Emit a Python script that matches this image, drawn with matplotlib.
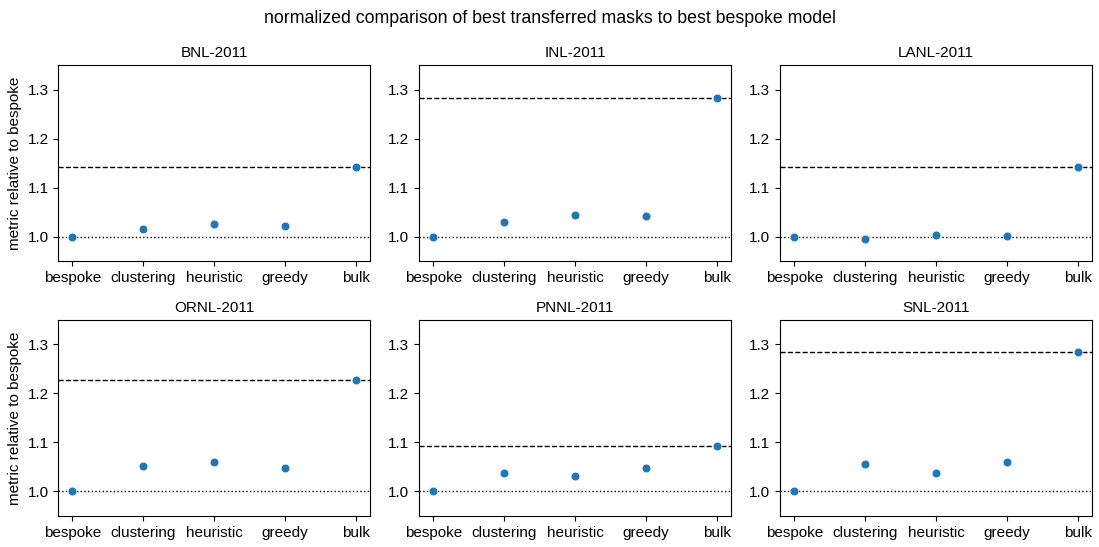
import numpy as np
import matplotlib.pyplot as plt

plt.rcParams['font.family'] = ['Liberation Sans', 'DejaVu Sans']

# methods along the x axis
methods = ['bespoke', 'clustering', 'heuristic', 'greedy', 'bulk']

# labs, one panel each
labs = ['BNL-2011', 'INL-2011', 'LANL-2011', 'ORNL-2011', 'PNNL-2011', 'SNL-2011']

# metric relative to bespoke
bnl = [1.000, 1.016, 1.025, 1.021, 1.141]
inl = [1.000, 1.029, 1.045, 1.041, 1.282]
lanl = [1.000, 0.996, 1.004, 1.002, 1.142]
ornl = [1.000, 1.051, 1.059, 1.047, 1.227]
pnnl = [1.000, 1.037, 1.031, 1.047, 1.092]
snl = [1.000, 1.055, 1.037, 1.060, 1.284]

values = [bnl, inl, lanl, ornl, pnnl, snl]

fig, axes = plt.subplots(2, 3, figsize=(10.99, 5.47), dpi=100)
plt.subplots_adjust(left=0.053, right=0.9936, top=0.881, bottom=0.057, wspace=0.157, hspace=0.30)

x = np.arange(len(methods))
for i, ax in enumerate(axes.flat):
    vals = values[i]
    ax.scatter(x, vals, color='#1f77b4', s=40, edgecolors='white', linewidths=0.5, zorder=3)
    ax.axhline(1.0, color='black', linestyle=':', linewidth=1)
    ax.axhline(vals[-1], color='black', linestyle='--', linewidth=1)
    ax.set_ylim(0.95, 1.35)
    ax.set_xlim(-0.2, 4.2)
    ax.set_xticks(x)
    ax.set_xticklabels(methods, fontsize=11)
    ax.set_yticks([1.0, 1.1, 1.2, 1.3])
    ax.tick_params(axis='y', labelsize=11)
    ax.set_title(labs[i], fontsize=11)
    if i % 3 == 0:
        ax.set_ylabel('metric relative to bespoke', fontsize=11)

fig.suptitle('normalized comparison of best transferred masks to best bespoke model', fontsize=12.8, y=0.981)

plt.savefig('out.png')
